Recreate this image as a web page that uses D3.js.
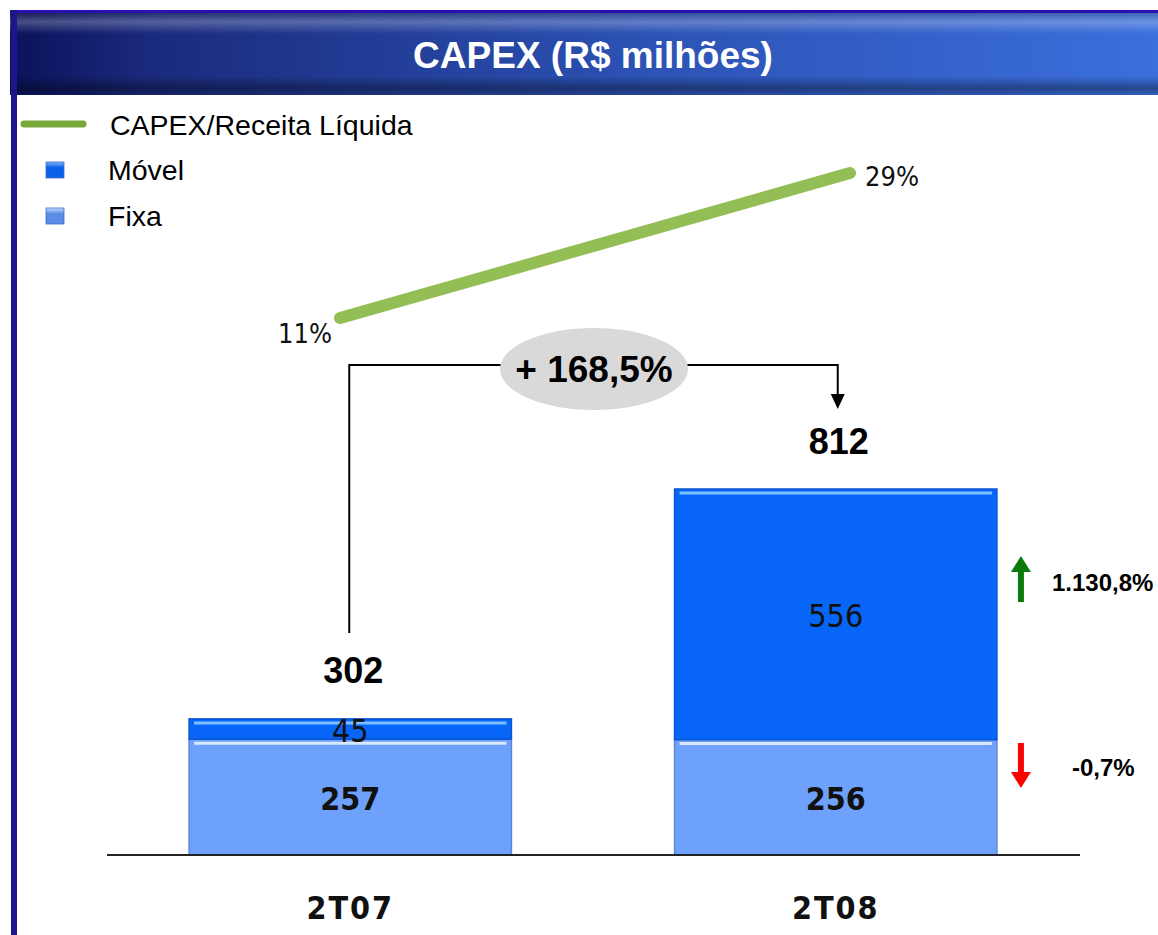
<!DOCTYPE html>
<html>
<head>
<meta charset="utf-8">
<script src="https://cdn.jsdelivr.net/npm/d3@7"></script>
<style>
  body { margin: 0; background: #fff; }
  svg { display: block; }
</style>
</head>
<body>
<div id="chart"></div>
<script>
// chart data
let categories = ['2T07', '2T08'];
let movel = [45, 556];
let fixa = [257, 256];
let totals = [302, 812];
let ratio = [11, 29];          // CAPEX/Receita Líquida (%)
let growthTotal = '+ 168,5%';
let growthMovel = '1.130,8%';
let growthFixa = '-0,7%';

let config = { svg: {}, plot: {} };
config.svg.width = 1158;
config.svg.height = 935;
config.plot.left = 107;
config.plot.right = 1080;
config.plot.base = 855;

let narrow = '"DejaVu Sans Condensed", "DejaVu Sans", Arial, sans-serif';

let svg = d3.select('#chart').append('svg')
  .attr('width', config.svg.width)
  .attr('height', config.svg.height);

let defs = svg.append('defs');

// title bar gradients
let tg = defs.append('linearGradient').attr('id', 'titleGrad');
tg.append('stop').attr('offset', '0%').attr('stop-color', '#0a125a');
tg.append('stop').attr('offset', '12%').attr('stop-color', '#1a2a7c');
tg.append('stop').attr('offset', '55%').attr('stop-color', '#2c52b4');
tg.append('stop').attr('offset', '100%').attr('stop-color', '#3b6fdc');

let tv = defs.append('linearGradient').attr('id', 'titleShade')
  .attr('x1', 0).attr('x2', 0).attr('y1', 0).attr('y2', 1);
tv.append('stop').attr('offset', '0%').attr('stop-color', '#000').attr('stop-opacity', 0.25);
tv.append('stop').attr('offset', '14%').attr('stop-color', '#fff').attr('stop-opacity', 0.25);
tv.append('stop').attr('offset', '28%').attr('stop-color', '#fff').attr('stop-opacity', 0);
tv.append('stop').attr('offset', '78%').attr('stop-color', '#000').attr('stop-opacity', 0);
tv.append('stop').attr('offset', '92%').attr('stop-color', '#000').attr('stop-opacity', 0.35);
tv.append('stop').attr('offset', '100%').attr('stop-color', '#000').attr('stop-opacity', 0.15);

function swatchGrad(id, c1, c2) {
  let g = defs.append('linearGradient').attr('id', id)
    .attr('x1', 0).attr('x2', 0).attr('y1', 0).attr('y2', 1);
  g.append('stop').attr('offset', '0%').attr('stop-color', c2);
  g.append('stop').attr('offset', '35%').attr('stop-color', c1);
  g.append('stop').attr('offset', '100%').attr('stop-color', c1);
}
swatchGrad('movelSw', '#0a5fe8', '#7fb4ff');
swatchGrad('fixaSw', '#5b8de6', '#c6dcff');

// title
svg.append('rect').attr('x', 10).attr('y', 10).attr('width', 1148).attr('height', 85)
  .attr('fill', 'url(#titleGrad)');
svg.append('rect').attr('x', 10).attr('y', 10).attr('width', 1148).attr('height', 85)
  .attr('fill', 'url(#titleShade)');
svg.append('rect').attr('x', 10).attr('y', 10).attr('width', 1148).attr('height', 3)
  .attr('fill', '#2a10b0');
svg.append('rect').attr('x', 11).attr('y', 10).attr('width', 6).attr('height', 925)
  .attr('fill', '#1b168a');
svg.append('text')
  .attr('x', 593).attr('y', 55)
  .attr('text-anchor', 'middle').attr('dominant-baseline', 'central')
  .style('font', 'bold 37px "Liberation Sans", Arial, sans-serif')
  .style('fill', '#fff')
  .text('CAPEX (R$ milhões)');

// legend
let legend = svg.append('g').style('font', '28.5px "Liberation Sans", Arial, sans-serif');
legend.append('line').attr('x1', 24).attr('x2', 83).attr('y1', 124).attr('y2', 124)
  .attr('stroke', '#77a83a').attr('stroke-width', 7).attr('stroke-linecap', 'round');
legend.append('text').attr('x', 110).attr('y', 125).attr('dominant-baseline', 'central')
  .text('CAPEX/Receita Líquida');
[['Móvel', 'movelSw', 170], ['Fixa', 'fixaSw', 216]].forEach(function(d) {
  legend.append('rect').attr('x', 46).attr('y', d[2] - 8).attr('width', 18).attr('height', 16)
    .attr('fill', 'url(#' + d[1] + ')').attr('stroke', '#3a6fc8').attr('stroke-width', 0.8);
  legend.append('text').attr('x', 108).attr('y', d[2]).attr('dominant-baseline', 'central')
    .text(d[0]);
});

// scales
let x = d3.scaleBand()
  .domain(categories)
  .range([108, 1078])
  .paddingInner(0.336)
  .paddingOuter(0.167);

let y = d3.scaleLinear()
  .domain([0, 812])
  .range([config.plot.base, 489]);

let xLine = d3.scalePoint().domain(categories).range([340, 850]);
let yLine = d3.scaleLinear().domain([11, 29]).range([318, 173]);

// stacked bars
let rows = categories.map(function(c, i) {
  return { cat: c, fixa: fixa[i], movel: movel[i] };
});
let stack = d3.stack().keys(['fixa', 'movel'])(rows);
let fills = { fixa: '#6ea1fb', movel: '#0766f7' };
let strokes = { fixa: '#5b88d8', movel: '#0a55d0' };

let layers = svg.selectAll('g.layer')
  .data(stack).enter()
  .append('g').attr('class', 'layer');

layers.selectAll('rect')
  .data(function(s) { return s.map(function(d) { d.key = s.key; return d; }); })
  .enter().append('rect')
  .attr('x', function(d) { return x(d.data.cat); })
  .attr('y', function(d) { return y(d[1]); })
  .attr('width', x.bandwidth())
  .attr('height', function(d) { return y(d[0]) - y(d[1]); })
  .attr('fill', function(d) { return fills[d.key]; })
  .attr('stroke', function(d) { return strokes[d.key]; })
  .attr('stroke-width', 1.5);

// top highlights on each segment
layers.selectAll('line.hl')
  .data(function(s) { return s.map(function(d) { d.key = s.key; return d; }); })
  .enter().append('line').attr('class', 'hl')
  .attr('x1', function(d) { return x(d.data.cat) + 5; })
  .attr('x2', function(d) { return x(d.data.cat) + x.bandwidth() - 5; })
  .attr('y1', function(d) { return y(d[1]) + 4; })
  .attr('y2', function(d) { return y(d[1]) + 4; })
  .attr('stroke', function(d) { return d.key === 'fixa' ? '#d8e8ff' : '#7ec0ff'; })
  .attr('stroke-width', 3);

// segment labels
layers.selectAll('text')
  .data(function(s) { return s.map(function(d) { d.key = s.key; return d; }); })
  .enter().append('text')
  .attr('x', function(d) { return x(d.data.cat) + x.bandwidth() / 2; })
  .attr('y', function(d) { return (y(d[0]) + y(d[1])) / 2 + 2; })
  .attr('text-anchor', 'middle').attr('dominant-baseline', 'central')
  .style('font-family', narrow)
  .style('font-stretch', 'condensed')
  .style('font-weight', function(d) { return d.key === 'fixa' ? 'bold' : 'normal'; })
  .style('font-size', '32px')
  .style('fill', '#111')
  .text(function(d) { return d[1] - d[0]; });

// baseline
svg.append('line')
  .attr('x1', config.plot.left).attr('x2', config.plot.right)
  .attr('y1', config.plot.base).attr('y2', config.plot.base)
  .attr('stroke', '#222').attr('stroke-width', 2);

// category labels
svg.selectAll('text.cat')
  .data(categories).enter()
  .append('text').attr('class', 'cat')
  .attr('x', function(d) { return x(d) + x.bandwidth() / 2; })
  .attr('y', 908)
  .attr('text-anchor', 'middle').attr('dominant-baseline', 'central')
  .style('font-family', narrow)
  .style('font-stretch', 'condensed')
  .style('font-weight', 'bold')
  .style('font-size', '32px')
  .style('letter-spacing', '2px')
  .style('fill', '#111')
  .text(function(d) { return d; });

// totals
svg.selectAll('text.total')
  .data(totals).enter()
  .append('text').attr('class', 'total')
  .attr('x', function(d, i) { return x(categories[i]) + x.bandwidth() / 2 + 3; })
  .attr('y', function(d) { return y(d) - 48; })
  .attr('text-anchor', 'middle').attr('dominant-baseline', 'central')
  .style('font', 'bold 36px "Liberation Sans", Arial, sans-serif')
  .style('fill', '#000')
  .text(function(d) { return d; });

// ratio line
let lineData = categories.map(function(c, i) { return [xLine(c), yLine(ratio[i])]; });
svg.append('path')
  .attr('d', d3.line()(lineData))
  .attr('fill', 'none')
  .attr('stroke', '#93bd55')
  .attr('stroke-width', 12)
  .attr('stroke-linecap', 'round');
let pctStyle = function(sel) {
  sel.style('font-family', narrow).style('font-stretch', 'condensed')
    .style('font-size', '27px').style('fill', '#111');
};
svg.append('text')
  .attr('x', lineData[0][0] - 8).attr('y', lineData[0][1] + 15)
  .attr('text-anchor', 'end').attr('dominant-baseline', 'central')
  .call(pctStyle)
  .text(ratio[0] + '%');
svg.append('text')
  .attr('x', lineData[1][0] + 15).attr('y', lineData[1][1] + 3)
  .attr('dominant-baseline', 'central')
  .call(pctStyle)
  .text(ratio[1] + '%');

// growth bracket
let cx0 = x(categories[0]) + x.bandwidth() / 2;
let cx1 = x(categories[1]) + x.bandwidth() / 2;
let bracketY = 365;
let midX = 594;
svg.append('path')
  .attr('d', 'M' + (cx0 - 1) + ',' + (y(totals[0]) - 86) + 'V' + bracketY + 'H' + (cx1 + 2) + 'V' + 396)
  .attr('fill', 'none').attr('stroke', '#000').attr('stroke-width', 2);
svg.append('path')
  .attr('d', 'M' + (cx1 - 5) + ',394L' + (cx1 + 9) + ',394L' + (cx1 + 2) + ',409Z')
  .attr('fill', '#000');
svg.append('ellipse')
  .attr('cx', midX).attr('cy', 369).attr('rx', 94).attr('ry', 41)
  .attr('fill', '#d9d9d9');
svg.append('text')
  .attr('x', midX).attr('y', 369)
  .attr('text-anchor', 'middle').attr('dominant-baseline', 'central')
  .style('font', 'bold 37px "Liberation Sans", Arial, sans-serif')
  .text(growthTotal);

// segment growth arrows
let ax = x(categories[1]) + x.bandwidth() + 24;
function arrow(yTail, yHead, color) {
  let dir = yHead < yTail ? 1 : -1;
  svg.append('line').attr('x1', ax).attr('x2', ax)
    .attr('y1', yTail).attr('y2', yHead + dir * 14)
    .attr('stroke', color).attr('stroke-width', 6);
  svg.append('path')
    .attr('d', 'M' + (ax - 10) + ',' + (yHead + dir * 16) + 'L' + (ax + 10) + ',' + (yHead + dir * 16) + 'L' + ax + ',' + yHead + 'Z')
    .attr('fill', color);
}
arrow(602, 556, '#0a7a0a');
arrow(743, 788, '#ff0000');

svg.append('text')
  .attr('x', ax + 31).attr('y', 582).attr('dominant-baseline', 'central')
  .style('font', 'bold 24px "Liberation Sans", Arial, sans-serif')
  .text(growthMovel);
svg.append('text')
  .attr('x', ax + 51).attr('y', 767).attr('dominant-baseline', 'central')
  .style('font', 'bold 24px "Liberation Sans", Arial, sans-serif')
  .text(growthFixa);
</script>
</body>
</html>
